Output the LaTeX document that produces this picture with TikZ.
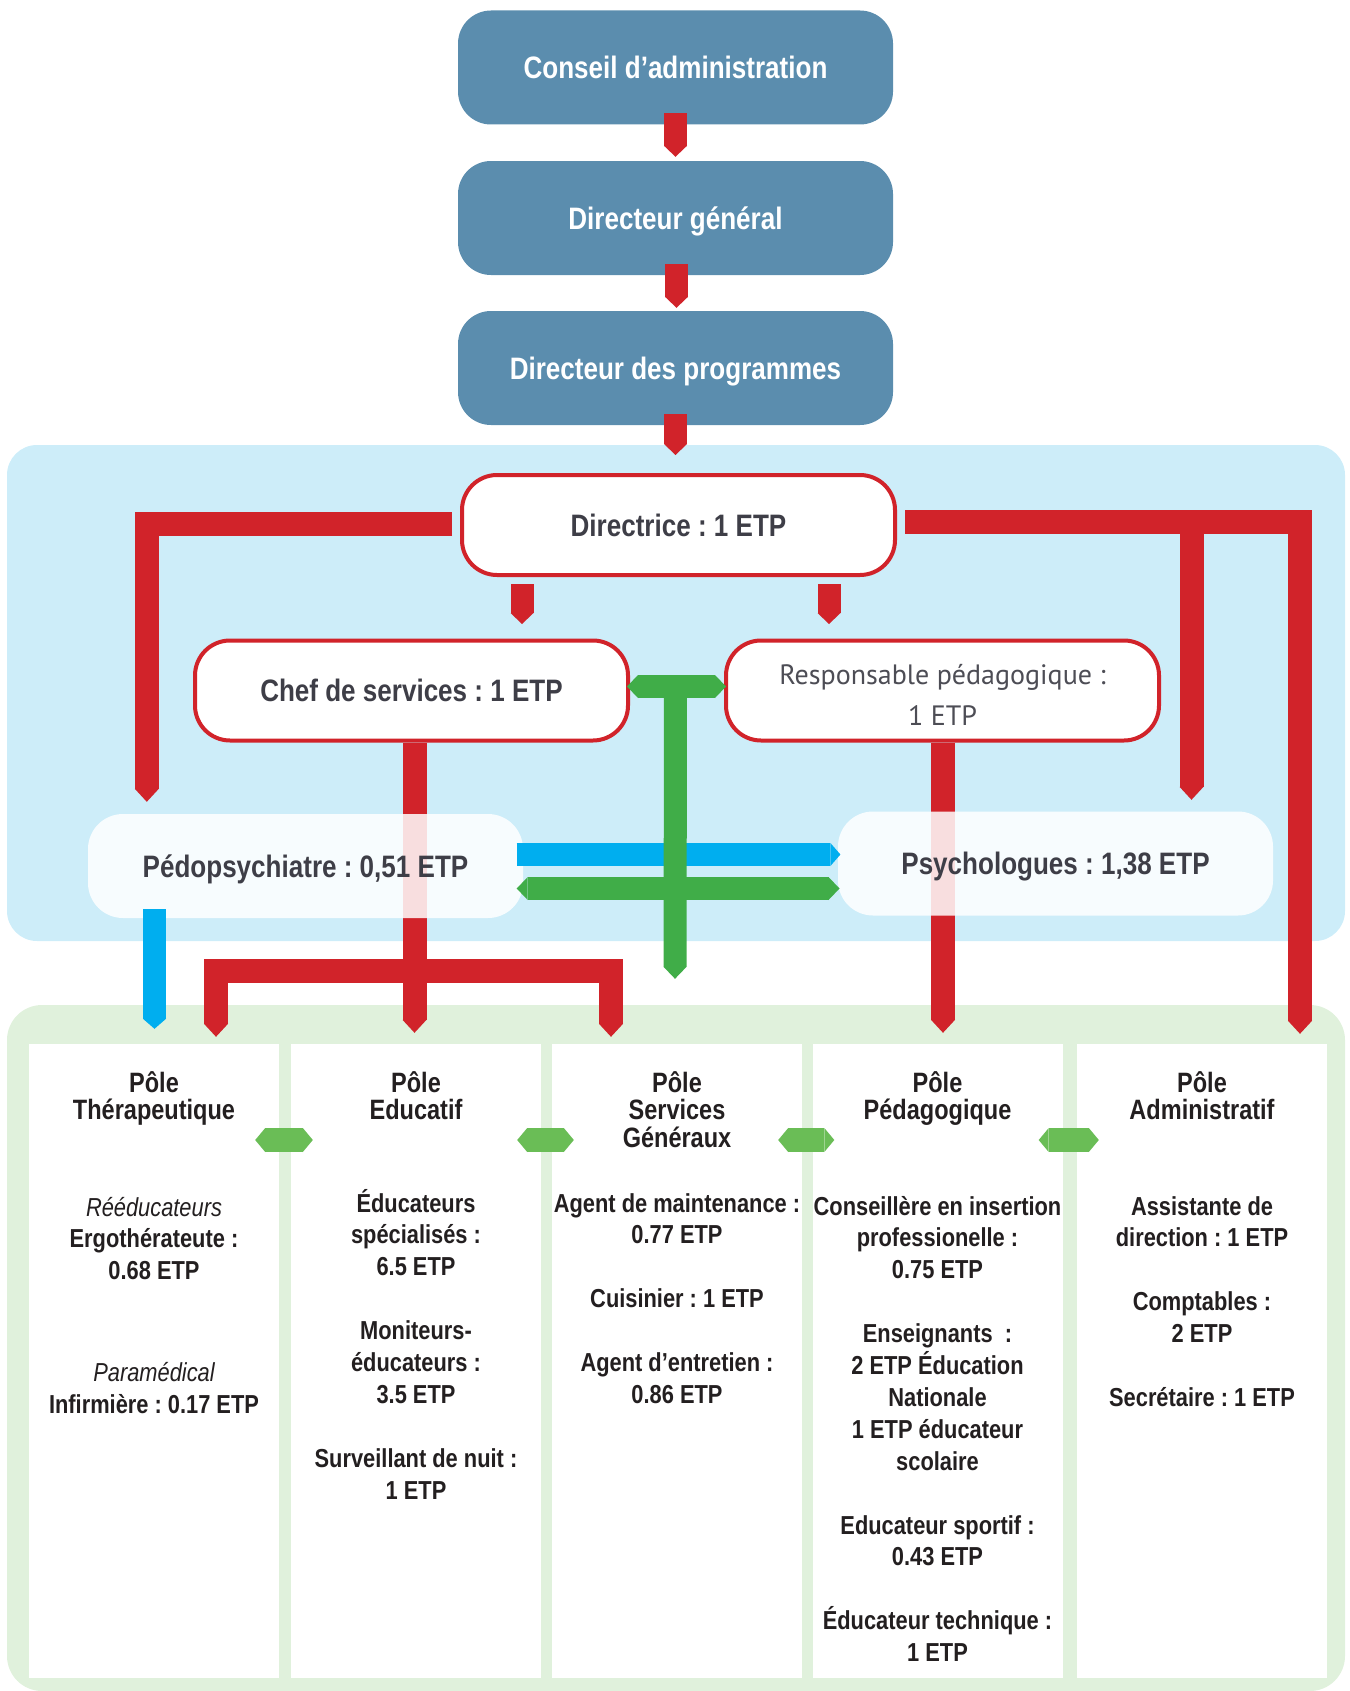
\documentclass[tikz,border=0pt]{standalone}
\usepackage{fontspec}
\setmainfont{Liberation Sans}[FakeStretch=0.84]
\newfontfamily\respfont{PT Sans}
\usetikzlibrary{calc,arrows.meta}
\frenchspacing

\definecolor{OrgTop}{HTML}{5B8DAE}
\definecolor{OrgRed}{HTML}{D1232A}
\definecolor{ZoneBlue}{HTML}{CDEDF9}
\definecolor{ZoneGreen}{HTML}{E0F1DC}
\definecolor{LinkBlue}{HTML}{00AEEF}
\definecolor{LinkGreen}{HTML}{40AD48}
\definecolor{HexGreen}{HTML}{6ABD56}
\definecolor{TextGray}{HTML}{3E3E47}
\definecolor{TextDark}{HTML}{231F20}
\definecolor{TextResp}{HTML}{4D4D55}

\pgfdeclarelayer{zone}
\pgfdeclarelayer{lines}
\pgfsetlayers{zone,lines,main}

\newcommand\headstrut{\rule{0pt}{27pt}}
\newcommand\colstrut{\rule{0pt}{26pt}}

\tikzset{
    topbox/.style={rounded corners=33pt, fill=OrgTop, text=white,
        font=\bfseries\fontsize{31}{37}\selectfont,
        minimum width=435pt, minimum height=114pt, inner sep=0pt,
        text height=22pt, text depth=0pt},
    redbox/.style={rounded corners=35pt, draw=OrgRed, line width=4pt, fill=white,
        text=TextGray, minimum width=433pt, minimum height=100pt, inner sep=0pt},
    softbox/.style={rounded corners=35pt, fill=white, fill opacity=0.85, text opacity=1,
        text=TextGray, minimum width=435pt, minimum height=104pt, inner sep=0pt},
    oneline/.style={font=\bfseries\fontsize{31}{37}\selectfont,
        text height=22pt, text depth=0pt},
    pole/.style={fill=white, minimum width=250pt, minimum height=634pt, inner sep=0pt},
    poletitle/.style={anchor=north, align=center, inner sep=0pt, text=TextDark,
        font=\bfseries\fontsize{28}{27.5}\selectfont},
    poletext/.style={anchor=north, align=center, inner sep=0pt, text=TextDark,
        font=\bfseries\fontsize{26}{31.9}\selectfont},
    redflow/.style={color=OrgRed, line width=24pt,
        -{Triangle[width=24pt,length=13pt,line width=0pt]}},
    redbranch/.style={color=OrgRed, line width=24pt,
        {Triangle[width=24pt,length=13pt,line width=0pt]}-{Triangle[width=24pt,length=13pt,line width=0pt]}},
    topflow/.style={color=OrgRed, line width=23pt,
        -{Triangle[width=23pt,length=11pt,line width=0pt]}},
    blueflow/.style={color=LinkBlue, line width=23pt,
        -{Triangle[width=23pt,length=10pt,line width=0pt]}},
    greenflow/.style={color=LinkGreen, line width=23pt,
        -{Triangle[width=23pt,length=12pt,line width=0pt]}},
    greentwo/.style={color=LinkGreen, line width=23pt,
        {Triangle[width=23pt,length=11pt,line width=0pt]}-{Triangle[width=23pt,length=11pt,line width=0pt]}},
    hexlink/.style={color=HexGreen, line width=24pt,
        {Triangle[width=24pt,length=10pt,line width=0pt]}-{Triangle[width=24pt,length=10pt,line width=0pt]}}
}

\begin{document}
\begin{tikzpicture}[x=1pt, y=-1pt]
\useasboundingbox (0,0) rectangle (1349,1691);

% zones
\begin{pgfonlayer}{zone}
    \fill[ZoneBlue, rounded corners=30pt] (7,445) rectangle (1345,941);
    \fill[ZoneGreen, rounded corners=35pt] (7,1005) rectangle (1345,1691);
\end{pgfonlayer}

% direction
\node[topbox] (ca) at (675.5,67.5) {Conseil d’administration};
\node[topbox] (dg) at (675.5,218) {Directeur général};
\node[topbox] (dp) at (675.5,368) {Directeur des programmes};

\draw[topflow] ($(ca.south)+(0,-11.5)$) -- ($(dg.north)+(0,-4)$);
\draw[topflow] ($(dg.south)+(1,-11)$) -- ($(dp.north)+(1,-3)$);

% etablissement
\node[redbox, oneline] (dir) at (678.5,525) {Directrice : 1 ETP};
\node[redbox, oneline] (chef) at (411.5,690.5) {Chef de services : 1 ETP};
\node[redbox, text=TextResp, align=center,
      font=\respfont\fontsize{28}{40.5}\selectfont] (resp) at (942.5,690.5)
      {\rule{0pt}{29pt}Responsable pédagogique :\\1 ETP};
\node[softbox, oneline] (pedo) at (305.5,866) {Pédopsychiatre : 0,51 ETP};
\node[softbox, oneline] (psy) at (1055.5,863.5) {Psychologues : 1,38 ETP};

\draw[topflow] ($(dp.south)+(0,-11)$) -- ($(dp.south |- dir.north)+(0,-18)$);
\draw[topflow] ($(dir.south)+(-156.5,7)$) -- ($(chef.north)+(110.5,-14.5)$);
\draw[topflow] ($(dir.south)+(150.5,7)$) -- ($(resp.north)+(-113.5,-14.5)$);

% poles
\foreach \n/\x in {1/154,2/416,3/677,4/937.5,5/1202}
    \node[pole] (p\n) at (\x,1361) {};

\coordinate (bend) at ($(dir.east)+(8,-3.5)$);
\coordinate (psytip) at ($(psy.north)+(136,-11.5)$);

\begin{pgfonlayer}{lines}
    \draw[redflow] ($(dir.west)+(-8,-1.5)$) -| ($(pedo.north west)+(59,-12)$);
    \draw[redflow] (bend) -| ($(p5.north)+(98,-10)$);
    \draw[redflow] (psytip |- bend) -- (psytip);
    \draw[redflow] ($(chef.south)+(3,0)$) -- ($(p2.north)+(-1.5,-11)$);
    \draw[redbranch] ($(p1.north)+(62,-7)$) -- ++(0,-66) -| ($(p3.north)+(-66,-7)$);
    \draw[redflow] ($(resp.south)+(0.5,0)$) -- ($(p4.north)+(5.5,-11)$);
\end{pgfonlayer}

\draw[blueflow] ($(pedo.east)+(-6.5,-11.5)$) -- ($(psy.west)+(2.6,-9)$);
\draw[greentwo] ($(pedo.east)+(-6.5,22.5)$) -- ($(psy.west)+(1.7,25)$);
\draw[greentwo] ($(chef.east)+(-3,-4)$) -- ($(resp.west)+(2,-4)$);
\coordinate (tmid) at ($(chef.east)!0.5!(resp.west)+(-1.5,-4)$);
\draw[greenflow] (tmid) -- ($(p3.north)+(-2,-65)$);
\draw[blueflow] ($(pedo.south -| p1.north)+(0.5,-9)$) -- ($(p1.north)+(0.5,-15)$);

\foreach \a/\b in {1/2,2/3,3/4,4/5}
    \draw[hexlink] ($(p\a.east)+(-24,-221)$) -- ($(p\b.west)+(22,-221)$);

% titres des poles
\node[poletitle] (t1) at ($(p1.north)+(0,21)$) {\headstrut Pôle\\Thérapeutique};
\node[poletitle] (t2) at ($(p2.north)+(0,21)$) {\headstrut Pôle\\Educatif};
\node[poletitle] (t3) at ($(p3.north)+(0,21)$) {\headstrut Pôle\\Services\\Généraux};
\node[poletitle] (t4) at ($(p4.north)+(0,21)$) {\headstrut Pôle\\Pédagogique};
\node[poletitle] (t5) at ($(p5.north)+(0,21)$) {\headstrut Pôle\\Administratif};

% effectifs
\node[poletext] (b1) at ($(p1.north)+(0,146)$)
    {\colstrut{\mdseries\itshape Rééducateurs}\\Ergothérateute :\\0.68 ETP\\[70pt]
     {\mdseries\itshape Paramédical}\\Infirmière : 0.17 ETP};
\node[poletext] (b2) at ($(p2.north)+(0,142)$)
    {\colstrut Éducateurs\\spécialisés :\\6.5 ETP\\[31.9pt]
     Moniteurs-\\éducateurs :\\3.5 ETP\\[31.9pt]
     Surveillant de nuit :\\1 ETP};
\node[poletext] (b3) at ($(p3.north)+(0,142)$)
    {\colstrut Agent de maintenance :\\0.77 ETP\\[31.9pt]
     Cuisinier : 1 ETP\\[31.9pt]
     Agent d’entretien :\\0.86 ETP};
\node[poletext] (b4) at ($(p4.north)+(0,145)$)
    {\colstrut Conseillère en insertion\\professionelle :\\0.75 ETP\\[31.9pt]
     Enseignants~~:\\2 ETP Éducation\\Nationale\\1 ETP éducateur\\scolaire\\[31.9pt]
     Educateur sportif :\\0.43 ETP\\[31.9pt]
     Éducateur technique :\\1 ETP};
\node[poletext] (b5) at ($(p5.north)+(0,145)$)
    {\colstrut Assistante de\\direction : 1 ETP\\[31.9pt]
     Comptables :\\2 ETP\\[31.9pt]
     Secrétaire : 1 ETP};

\end{tikzpicture}
\end{document}
